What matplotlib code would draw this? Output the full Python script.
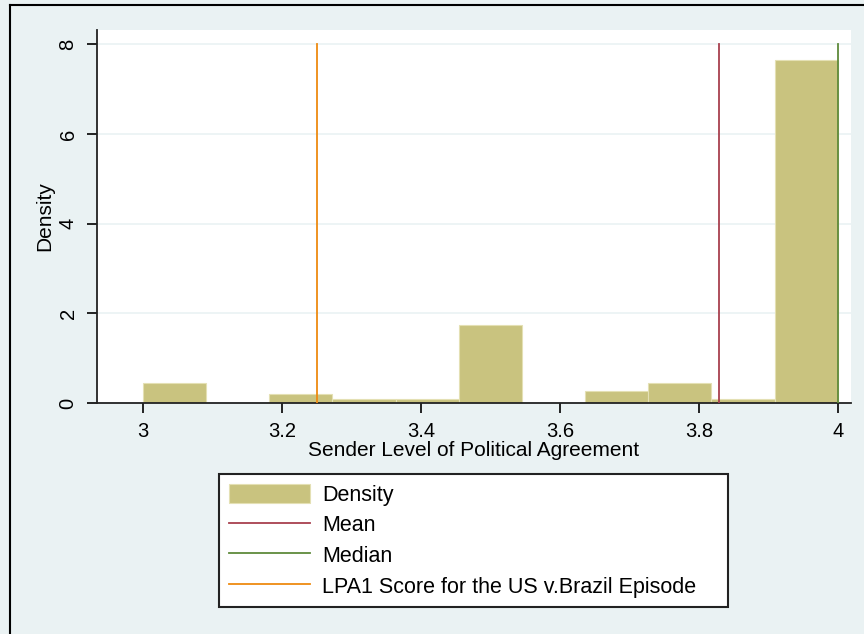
import numpy as np
import matplotlib
matplotlib.use("Agg")
import matplotlib.pyplot as plt
from matplotlib.lines import Line2D

plt.rcParams['font.family'] = ['Liberation Sans', 'DejaVu Sans']

# histogram: 11 bins between 3 and 4, density values
bin_edges = np.linspace(3, 4, 12)
density = [0.45, 0.0, 0.2, 0.1, 0.1, 1.75, 0.0, 0.27, 0.45, 0.1, 7.65]

mean_val = 3.829
median_val = 4.0
lpa1_score = 3.25
line_top = 8

x_ticks = [3, 3.2, 3.4, 3.6, 3.8, 4]
x_ticklabels = ["3", "3.2", "3.4", "3.6", "3.8", "4"]
y_ticks = [0, 2, 4, 6, 8]

bg = "#eaf2f3"
bar_col = "#c9c37f"
mean_col = "#a8404e"
median_col = "#5e8a3a"
lpa_col = "#ee8a10"

fig = plt.figure(figsize=(8.64, 6.34), dpi=100)
fig.patch.set_facecolor(bg)
ax = fig.add_axes([97/864, 1-403/634, (851-97)/864, (403-30)/634])
ax.set_facecolor("white")

widths = np.diff(bin_edges)
bars = ax.bar(bin_edges[:-1], density, width=widths, align="edge",
              color=bar_col, edgecolor="#e4e0b4", linewidth=0.8, label="Density", zorder=2)

l1, = ax.plot([mean_val, mean_val], [0, line_top], color=mean_col, lw=1.3, label="Mean", zorder=3)
l2, = ax.plot([median_val, median_val], [0, line_top], color=median_col, lw=1.3, label="Median", zorder=3)
l3, = ax.plot([lpa1_score, lpa1_score], [0, line_top], color=lpa_col, lw=1.3,
              label="LPA1 Score for the US v.Brazil Episode", zorder=3)

ax.set_xlim(2.934, 4.019)
ax.set_ylim(0, 8.32)
ax.set_xticks(x_ticks)
ax.set_xticklabels(x_ticklabels)
ax.set_yticks(y_ticks)
for t in ax.get_yticklabels():
    t.set_rotation(90)
    t.set_va("center")
ax.tick_params(axis="both", direction="out", length=7, width=1.2, labelsize=14.5, pad=7)
ax.grid(axis="y", color=bg, lw=1.2, zorder=0)
ax.set_axisbelow(True)

for s in ["top", "right"]:
    ax.spines[s].set_visible(False)
for s in ["left", "bottom"]:
    ax.spines[s].set_linewidth(1.3)
    ax.spines[s].set_color("#222222")

ax.set_xlabel("Sender Level of Political Agreement", fontsize=15, labelpad=0)
ax.set_ylabel("Density", fontsize=15, labelpad=3)

leg = ax.legend(handles=[bars, l1, l2, l3], loc="upper left", mode="expand",
                bbox_to_anchor=(219/864, 1-603/634, 509/864, 129/634),
                bbox_transform=fig.transFigure, fontsize=15.5, frameon=True,
                fancybox=False, framealpha=1, edgecolor="#222222",
                handlelength=3.8, handleheight=1.0, labelspacing=0.4,
                handletextpad=0.55, borderpad=0.45, borderaxespad=0)
leg.get_frame().set_linewidth(1.5)

# screenshot border on top and left
fig.add_artist(Line2D([10/864, 10/864], [0, 1-5/634], color="black", lw=1.5))
fig.add_artist(Line2D([10/864, 1], [1-5/634, 1-5/634], color="black", lw=1.5))

fig.savefig("out.png", dpi=100, facecolor=bg)
